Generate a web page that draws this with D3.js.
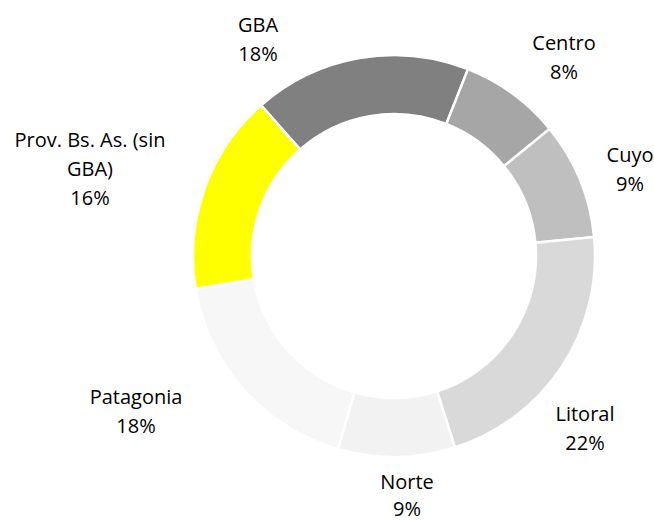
<!DOCTYPE html>
<html>
<head>
<meta charset="utf-8">
<script src="https://cdn.jsdelivr.net/npm/d3@7"></script>
<style>
  body { margin: 0; background: #fff; }
  text { font-family: "Open Sans", "Noto Sans", sans-serif; font-size: 20px; fill: #000; }
</style>
</head>
<body>
<svg id="chart" width="654" height="525"></svg>
<script>
// slices in clockwise order, starting with GBA
var regions = ["GBA", "Centro", "Cuyo", "Litoral", "Norte", "Patagonia", "Prov. Bs. As. (sin GBA)"];
var shares = [17.5, 8.1, 9.4, 21.6, 9.4, 17.9, 16.1];
var colors = ["#808080", "#a6a6a6", "#bfbfbf", "#d9d9d9", "#f2f2f2", "#f7f7f7", "#ffff00"];

// label lines (text wrapped like the original) and where each block sits
var labelLines = [["GBA"], ["Centro"], ["Cuyo"], ["Litoral"], ["Norte"], ["Patagonia"], ["Prov. Bs. As. (sin", "GBA)"]];
var labelX = [258, 564, 630, 585, 407, 136, 90];
var labelY = [32, 50, 162, 421, 489, 404, 147];
var LINE = 29;

var cx = 394, cy = 256, R = 201, r = 142;

var svg = d3.select("#chart");
var g = svg.append("g").attr("transform", "translate(" + cx + "," + cy + ")");

var total = d3.sum(shares);
var pie = d3.pie().sort(null)
    .startAngle(-41.4 * Math.PI / 180)
    .endAngle((360 - 41.4) * Math.PI / 180);
var arc = d3.arc().innerRadius(r).outerRadius(R);

g.selectAll("path").data(pie(shares))
    .enter().append("path")
        .attr("d", arc)
        .attr("fill", function(d, i) { return colors[i]; })
        .attr("stroke", "#fff")
        .attr("stroke-width", 2.5);

var fmt = d3.format(".0%");
for (var i = 0; i < regions.length; ++i) {
    var lines = labelLines[i].concat([fmt(shares[i] / total)]);
    var t = svg.append("text").attr("text-anchor", "middle");
    lines.forEach(function(s, k) {
        var lh = (i == 4) ? 27 : LINE;   // tighter at the bottom edge
        t.append("tspan").attr("x", labelX[i]).attr("y", labelY[i] + k * lh).text(s);
    });
}
</script>
</body>
</html>
